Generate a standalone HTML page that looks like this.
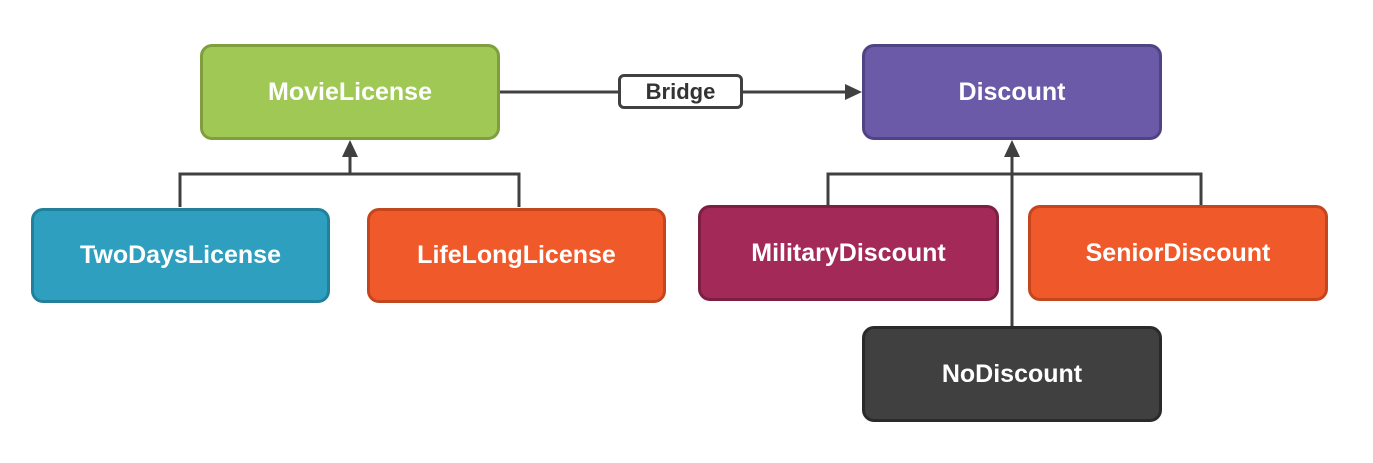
<!DOCTYPE html>
<html><head><style>
body{margin:0;width:1373px;height:463px;background:#fff;position:relative;overflow:hidden;font-family:"Liberation Sans",sans-serif}
.b{position:absolute;box-sizing:border-box;border-radius:12px;border:3px solid;color:#fff;font-weight:bold;font-size:25px;display:flex;align-items:center;justify-content:center}
</style></head><body>
<svg width="1373" height="463" style="position:absolute;left:0;top:0">
<g stroke="#404040" stroke-width="3" fill="none">
<line x1="499" y1="92" x2="850" y2="92"/>
<line x1="350" y1="174" x2="350" y2="155"/>
<polyline points="180,207 180,174 519,174 519,207"/>
<line x1="1012" y1="326" x2="1012" y2="155"/>
<polyline points="828,206 828,174 1201,174 1201,206"/>
</g>
<g fill="#404040">
<polygon points="862,92 845,84 845,100"/>
<polygon points="350,140 342,157 358,157"/>
<polygon points="1012,140 1004,157 1020,157"/>
</g>
</svg>
<div class="b" style="left:200px;top:44px;width:300px;height:96px;background:#a0c855;border-color:#7f9f3e">MovieLicense</div>
<div class="b" style="left:618px;top:74px;width:125px;height:35px;background:#fff;border-color:#404040;color:#333;border-radius:6px;font-size:22px">Bridge</div>
<div class="b" style="left:862px;top:44px;width:300px;height:96px;background:#6a5aa8;border-color:#4f4285">Discount</div>
<div class="b" style="left:31px;top:208px;width:299px;height:95px;background:#2e9fbf;border-color:#23809b">TwoDaysLicense</div>
<div class="b" style="left:367px;top:208px;width:299px;height:95px;background:#f05a2a;border-color:#c4461f">LifeLongLicense</div>
<div class="b" style="left:698px;top:205px;width:301px;height:96px;background:#a32a58;border-color:#7d1f43">MilitaryDiscount</div>
<div class="b" style="left:1028px;top:205px;width:300px;height:96px;background:#f05a2a;border-color:#c4461f">SeniorDiscount</div>
<div class="b" style="left:862px;top:326px;width:300px;height:96px;background:#404040;border-color:#2a2a2a">NoDiscount</div>
</body></html>
